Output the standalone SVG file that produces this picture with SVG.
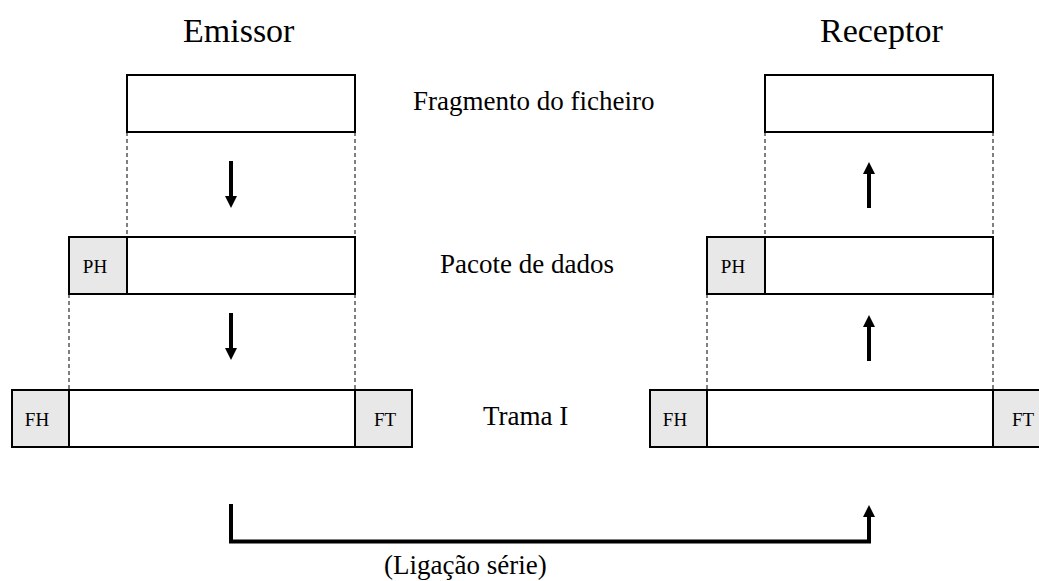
<svg xmlns="http://www.w3.org/2000/svg" width="1039" height="581" viewBox="0 0 1039 581">
<style>
.box{fill:#fff;stroke:#000;stroke-width:2}
.hdr{fill:#e8e8e8;stroke:#000;stroke-width:2}
.dash{stroke:#000;stroke-width:1;stroke-dasharray:4,3;fill:none}
.arr{stroke:#000;stroke-width:4;fill:none}
.t{font-family:"Liberation Serif","Times New Roman",serif;fill:#000}
.title{font-size:34px}
.lbl{font-size:27px}
.sm{font-size:19px}
</style>
<defs>
<marker id="ah" markerWidth="3" markerHeight="3" refX="0.5" refY="1.5" orient="auto" markerUnits="strokeWidth">
<path d="M0,0 L3,1.5 L0,3 z" fill="#000"/>
</marker>
</defs>
<rect width="1039" height="581" fill="#fff"/>
<g id="titles">
<text class="t title" x="183" y="42">Emissor</text>
<text class="t title" x="820" y="42">Receptor</text>
</g>
<g id="labels">
<text class="t lbl" x="413" y="110">Fragmento do ficheiro</text>
<text class="t lbl" x="440" y="273">Pacote de dados</text>
<text class="t lbl" x="483" y="425">Trama I</text>
<text class="t lbl" x="384" y="574">(Ligação série)</text>
</g>
<g id="e-fragment">
<rect class="box" x="127" y="75" width="228" height="57"/>
</g>
<g id="e-packet">
<rect class="hdr" x="69" y="237" width="58" height="57"/>
<rect class="box" x="127" y="237" width="228" height="57"/>
<text class="t sm" x="95" y="273" text-anchor="middle">PH</text>
</g>
<g id="e-frame">
<rect class="hdr" x="12" y="390" width="57" height="57"/>
<rect class="box" x="69" y="390" width="286" height="57"/>
<rect class="hdr" x="355" y="390" width="57" height="57"/>
<text class="t sm" x="37" y="426" text-anchor="middle">FH</text>
<text class="t sm" x="385" y="426" text-anchor="middle">FT</text>
</g>
<g id="r-fragment">
<rect class="box" x="765" y="75" width="228" height="57"/>
</g>
<g id="r-packet">
<rect class="hdr" x="707" y="237" width="58" height="57"/>
<rect class="box" x="765" y="237" width="228" height="57"/>
<text class="t sm" x="733" y="273" text-anchor="middle">PH</text>
</g>
<g id="r-frame">
<rect class="hdr" x="650" y="390" width="57" height="57"/>
<rect class="box" x="707" y="390" width="286" height="57"/>
<rect class="hdr" x="993" y="390" width="57" height="57"/>
<text class="t sm" x="675" y="426" text-anchor="middle">FH</text>
<text class="t sm" x="1023" y="426" text-anchor="middle">FT</text>
</g>
<g id="connectors">
<path class="dash" d="M127,132 V237 M355,132 V237 M69,294 V390 M355,294 V390"/>
<path class="dash" d="M765,132 V237 M993,132 V237 M707,294 V390 M993,294 V390"/>
<path class="arr" d="M231,161 V198" marker-end="url(#ah)"/>
<path class="arr" d="M231,313 V350" marker-end="url(#ah)"/>
<path class="arr" d="M869,208 V172" marker-end="url(#ah)"/>
<path class="arr" d="M869,361 V325" marker-end="url(#ah)"/>
<path class="arr" d="M231,504 V541.5 H869 V515" marker-end="url(#ah)"/>
</g>
</svg>
